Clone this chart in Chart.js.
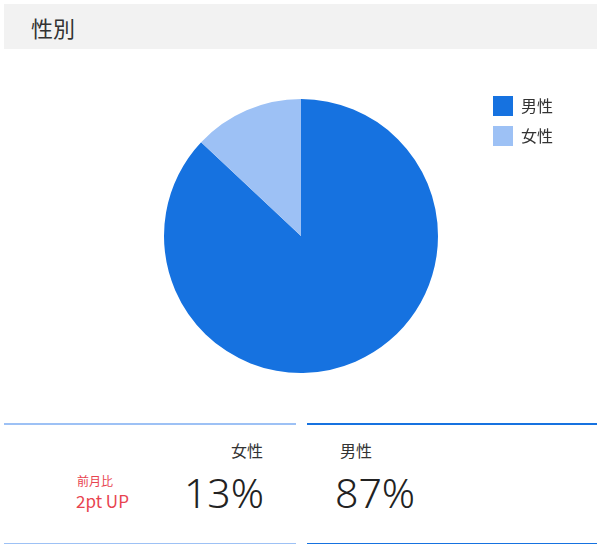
<!DOCTYPE html>
<html>
<head>
<meta charset="utf-8">
<script src="https://cdn.jsdelivr.net/npm/chart.js@4/dist/chart.umd.min.js"></script>
<style>
    body { margin: 0; width: 600px; height: 545px; background: #fff; position: relative; overflow: hidden;
           font-family: "Noto Sans CJK JP", "Noto Sans", sans-serif; color: #333; }
    .header { position: absolute; left: 4px; top: 4px; width: 593px; height: 45px; background: #f2f2f2; }
    .header span { position: absolute; left: 27px; top: 7px; font-size: 22px; color: #333; }
    #chartWrap { position: absolute; left: 0; top: 89px; width: 600px; height: 294px; }
    .panel { position: absolute; top: 423px; height: 118px; }
    .panel.female { left: 4px; width: 292px; border-top: 2px solid #9dc1f5; border-bottom: 1px solid #9dc1f5; }
    .panel.male { left: 307px; width: 290px; border-top: 2px solid #1672e0; border-bottom: 1px solid #1672e0; }
    .t { position: absolute; white-space: nowrap; }
    .label { font-size: 16px; color: #333; }
    .value { font-family: "Noto Sans", sans-serif; font-weight: 300; font-size: 41px; color: #222; }
    .red { color: #e8434f; }
</style>
</head>
<body>
<div class="header"><span>性別</span></div>
<div id="chartWrap"><canvas id="chart"></canvas></div>

<div class="panel female">
    <span class="t label" id="femaleLabel" style="right:33px; top:13px;"></span>
    <span class="t red" style="left:73px; top:47px; font-size:12px;">前月比</span>
    <span class="t red" id="diffText" style="left:72px; top:63px; font-size:17px;"></span>
    <span class="t value" id="femaleValue" style="right:32px; top:39px;"></span>
</div>
<div class="panel male">
    <span class="t label" id="maleLabel" style="left:33px; top:13px;"></span>
    <span class="t value" id="maleValue" style="left:28px; top:39px;"></span>
</div>

<script>
    // 性別の構成比 (%)
    var labels = ['男性', '女性'];
    var shares = [87, 13];
    var colors = ['#1672e0', '#9dc1f5'];
    var femaleDiff = '2pt UP';

    document.getElementById('maleLabel').textContent = labels[0];
    document.getElementById('femaleLabel').textContent = labels[1];
    document.getElementById('maleValue').textContent = shares[0] + '%';
    document.getElementById('femaleValue').textContent = shares[1] + '%';
    document.getElementById('diffText').textContent = femaleDiff;

    // 凡例をパイの上端より少し上に寄せる
    var legendNudge = {
        id: 'legendNudge',
        afterLayout: function (chart) {
            if (chart.legend) {
                chart.legend.top -= 13;
                chart.legend.bottom -= 13;
            }
        }
    };

    var context = document.getElementById('chart').getContext('2d');
    var chart = new Chart(context, {
        type: 'pie',
        data: {
            labels: labels,
            datasets: [{ data: shares, backgroundColor: colors, borderWidth: 0 }]
        },
        options: {
            responsive: true,
            maintainAspectRatio: false,
            animation: false,
            layout: { padding: { left: 119, right: 37, top: 10, bottom: 10 } },
            plugins: {
                tooltip: { enabled: false },
                legend: {
                    position: 'right',
                    align: 'start',
                    labels: {
                        boxWidth: 20,
                        boxHeight: 20,
                        padding: 10,
                        color: '#333',
                        font: { family: '"Noto Sans CJK JP", sans-serif', size: 16 }
                    }
                }
            }
        },
        plugins: [legendNudge]
    });
</script>
</body>
</html>
